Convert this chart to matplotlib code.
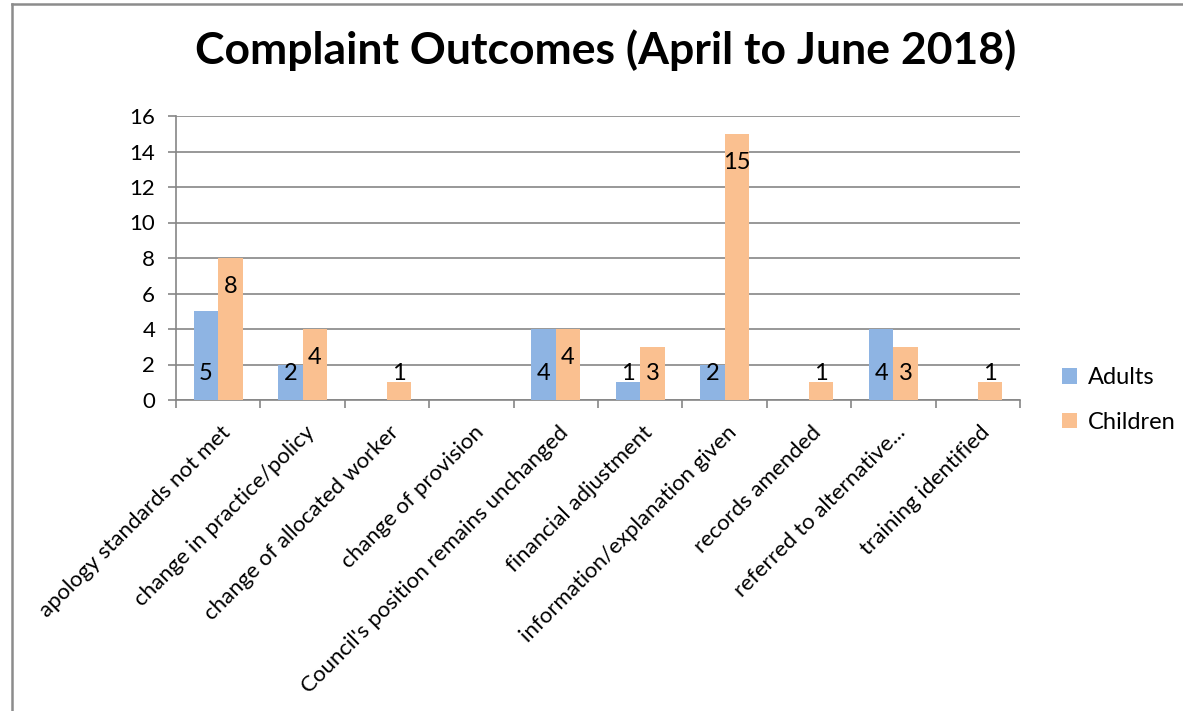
import numpy as np
import matplotlib
matplotlib.use("Agg")
import matplotlib.pyplot as plt
import matplotlib.transforms as mtransforms
from matplotlib.patches import Patch
from matplotlib.lines import Line2D

plt.rcParams['font.family'] = ['Lato', 'DejaVu Sans']

# ---------------- data ----------------
categories = ["apology standards not met", "change in practice/policy",
              "change of allocated worker", "change of provision",
              "Council's position remains unchanged", "financial adjustment",
              "information/explanation given", "records amended",
              "referred to alternative...", "training identified"]
adults = [5, 2, 0, 0, 4, 1, 2, 0, 4, 0]
children = [8, 4, 1, 0, 4, 3, 15, 1, 3, 1]
series_names = ["Adults", "Children"]
title = "Complaint Outcomes (April to June 2018)"

C_ADULT = "#8EB4E3"
C_CHILD = "#FAC090"
GRID = "#868686"

W, H = 1183, 711
fig = plt.figure(figsize=(W / 100, H / 100), dpi=100)

# chart border (outer frame)
fig.add_artist(Line2D([12 / W, 12 / W], [0, 1 - 4 / H], color="#8c8c8c", lw=1.8))
fig.add_artist(Line2D([12 / W, 1], [1 - 4 / H, 1 - 4 / H], color="#8c8c8c", lw=1.8))

ax = fig.add_axes([176 / W, 1 - 400 / H, (1020 - 176) / W, (400 - 116) / H])

n = len(categories)
x = np.arange(n)
bw = 0.29
ax.bar(x - bw / 2, adults, bw, color=C_ADULT, zorder=3, label=series_names[0])
ax.bar(x + bw / 2, children, bw, color=C_CHILD, zorder=3, label=series_names[1])

# data labels
for i in range(n):
    if adults[i] > 0:
        ax.text(x[i] - bw / 2, 1.5, str(adults[i]), ha="center", va="center",
                fontsize=17, zorder=4)
    if children[i] > 0:
        ax.text(x[i] + bw / 2, max(children[i] - 1.63, 1.5), str(children[i]),
                ha="center", va="center", fontsize=17, zorder=4)

ax.set_xlim(-0.5, n - 0.5)
ax.set_ylim(0, 16)
ax.set_yticks(np.arange(0, 17, 2))
ax.yaxis.grid(True, color=GRID, lw=1.2, zorder=0)
ax.set_axisbelow(True)
for s in ["top", "right"]:
    ax.spines[s].set_visible(False)
for s in ["left", "bottom"]:
    ax.spines[s].set_color(GRID)
    ax.spines[s].set_linewidth(1.2)

ax.tick_params(axis="y", length=6, color=GRID, width=1.2, labelsize=16, pad=9)
ax.set_xticks(x)
ax.set_xticks(np.arange(-0.5, n, 1.0), minor=True)
ax.tick_params(axis="x", which="major", length=0, pad=16)
ax.tick_params(axis="x", which="minor", length=6, color=GRID, width=1.2)
ax.set_xticklabels(categories, rotation=45, ha="right", rotation_mode="anchor",
                   fontsize=16)
offset = mtransforms.ScaledTranslation(2 / 100, 0, fig.dpi_scale_trans)
for lab in ax.get_xticklabels():
    lab.set_transform(lab.get_transform() + offset)

fig.text(606 / W, 1 - 50 / H, title, ha="center", va="center",
         fontsize=32, fontweight="bold")

handles = [Patch(facecolor=C_ADULT, edgecolor="none"),
           Patch(facecolor=C_CHILD, edgecolor="none")]
fig.legend(handles, series_names, loc="center left",
           bbox_to_anchor=(1062 / W, 1 - 400 / H), frameon=False,
           borderpad=0, borderaxespad=0,
           fontsize=17, handlelength=0.65, handleheight=0.65,
           handletextpad=0.45, labelspacing=1.0)

fig.savefig("out.png", dpi=100)
